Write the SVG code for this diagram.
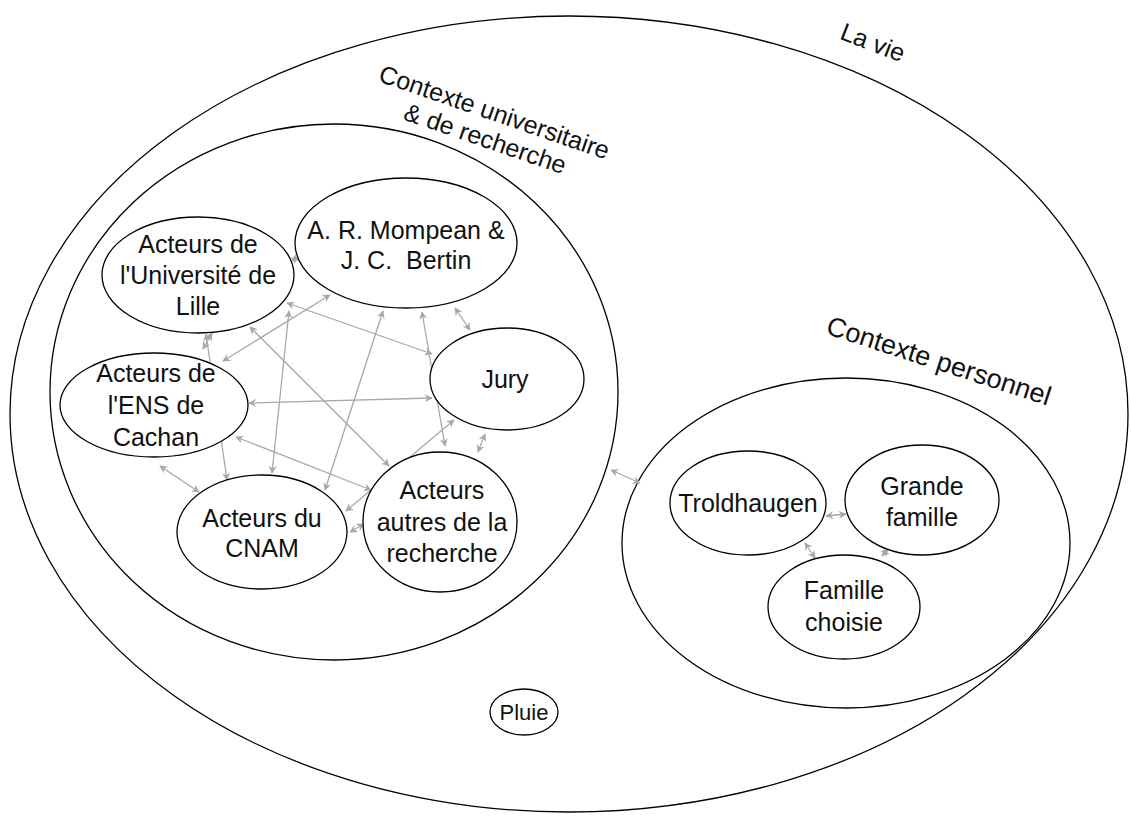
<svg xmlns="http://www.w3.org/2000/svg" width="1131" height="823" viewBox="0 0 1131 823">
<style>
.ctx{fill:none;stroke:#000;stroke-width:1.3}
.nd{fill:#fff;stroke:#000;stroke-width:1.3}
.t{font-family:"Liberation Sans",Arial,sans-serif;font-size:25px;fill:#111;text-anchor:middle}
.e{fill:none;stroke:#a8a8a8;stroke-width:1.3;marker-start:url(#ah);marker-end:url(#ah)}
</style>
<defs>
<marker id="ah" viewBox="0 0 10 10" refX="9" refY="5" markerWidth="9" markerHeight="8" markerUnits="userSpaceOnUse" orient="auto-start-reverse">
<path d="M0,0 L10,5 L0,10 L3,5 z" fill="#a8a8a8"/>
</marker>
</defs>
<rect width="1131" height="823" fill="#fff"/>
<g id="la-vie">
<ellipse class="ctx" cx="569" cy="414" rx="559" ry="398"/>
<text class="t" transform="translate(873,42) rotate(21)" y="9">La vie</text>
</g>
<g id="contexte-universitaire">
<ellipse class="ctx" cx="334" cy="392" rx="284" ry="268"/>
<text class="t" transform="translate(490,125) rotate(19)"><tspan x="0" y="-5">Contexte universitaire</tspan><tspan x="0" y="23">&amp; de recherche</tspan></text>
</g>
<g id="contexte-personnel">
<ellipse class="ctx" cx="846" cy="543" rx="224" ry="165"/>
<text class="t" transform="translate(939,361) rotate(18)" y="9" style="font-size:27px">Contexte personnel</text>
</g>
<g id="connectors">
<line class="e" x1="292" y1="261" x2="298" y2="257"/>
<line class="e" x1="212" y1="333" x2="203" y2="349"/>
<line class="e" x1="206" y1="334" x2="227" y2="480"/>
<line class="e" x1="287" y1="303" x2="432" y2="354"/>
<line class="e" x1="330" y1="295" x2="223" y2="361"/>
<line class="e" x1="250" y1="327" x2="389" y2="466"/>
<line class="e" x1="289" y1="311" x2="272" y2="473"/>
<line class="e" x1="383" y1="311" x2="325" y2="490"/>
<line class="e" x1="422" y1="312" x2="445" y2="446"/>
<line class="e" x1="455" y1="308" x2="470" y2="330"/>
<line class="e" x1="432" y1="398" x2="249" y2="403"/>
<line class="e" x1="454" y1="420" x2="346" y2="511"/>
<line class="e" x1="485" y1="434" x2="478" y2="452"/>
<line class="e" x1="160" y1="466" x2="199" y2="492"/>
<line class="e" x1="236" y1="437" x2="371" y2="490"/>
<line class="e" x1="350" y1="532" x2="364" y2="524"/>
<line class="e" x1="611" y1="470" x2="640" y2="483"/>
<line class="e" x1="826" y1="516" x2="846" y2="514"/>
<line class="e" x1="805" y1="543" x2="815" y2="558"/>
<line class="e" x1="882" y1="556" x2="888" y2="549"/>
</g>
<g id="lille">
<ellipse class="nd" cx="198" cy="275" rx="96" ry="58"/>
<text class="t"><tspan x="198" y="253">Acteurs de</tspan><tspan x="198" y="284">l'Université de</tspan><tspan x="198" y="315">Lille</tspan></text>
</g>
<g id="mompean">
<ellipse class="nd" cx="406" cy="243" rx="111" ry="65"/>
<text class="t" style="white-space:pre"><tspan x="406" y="239">A. R. Mompean &amp;</tspan><tspan x="406" y="269">J. C.  Bertin</tspan></text>
</g>
<g id="jury">
<ellipse class="nd" cx="507" cy="379" rx="77" ry="51"/>
<text class="t" x="505" y="388">Jury</text>
</g>
<g id="ens">
<ellipse class="nd" cx="154" cy="405" rx="94" ry="52"/>
<text class="t"><tspan x="156" y="382">Acteurs de</tspan><tspan x="156" y="414">l'ENS de</tspan><tspan x="156" y="446">Cachan</tspan></text>
</g>
<g id="cnam">
<ellipse class="nd" cx="262" cy="532" rx="85" ry="57"/>
<text class="t"><tspan x="262" y="527">Acteurs du</tspan><tspan x="262" y="557">CNAM</tspan></text>
</g>
<g id="autres">
<ellipse class="nd" cx="440" cy="522" rx="77" ry="70"/>
<text class="t"><tspan x="442" y="499">Acteurs</tspan><tspan x="442" y="531">autres de la</tspan><tspan x="442" y="562">recherche</tspan></text>
</g>
<g id="troldhaugen">
<ellipse class="nd" cx="748" cy="503" rx="78" ry="52"/>
<text class="t" x="748" y="512">Troldhaugen</text>
</g>
<g id="grande-famille">
<ellipse class="nd" cx="922" cy="500" rx="77" ry="55"/>
<text class="t"><tspan x="922" y="495">Grande</tspan><tspan x="922" y="526">famille</tspan></text>
</g>
<g id="famille-choisie">
<ellipse class="nd" cx="844" cy="607" rx="76" ry="52"/>
<text class="t"><tspan x="844" y="599">Famille</tspan><tspan x="844" y="631">choisie</tspan></text>
</g>
<g id="pluie">
<ellipse class="nd" cx="524" cy="712" rx="34" ry="23"/>
<text class="t" x="524" y="720" style="font-size:22px">Pluie</text>
</g>
</svg>
